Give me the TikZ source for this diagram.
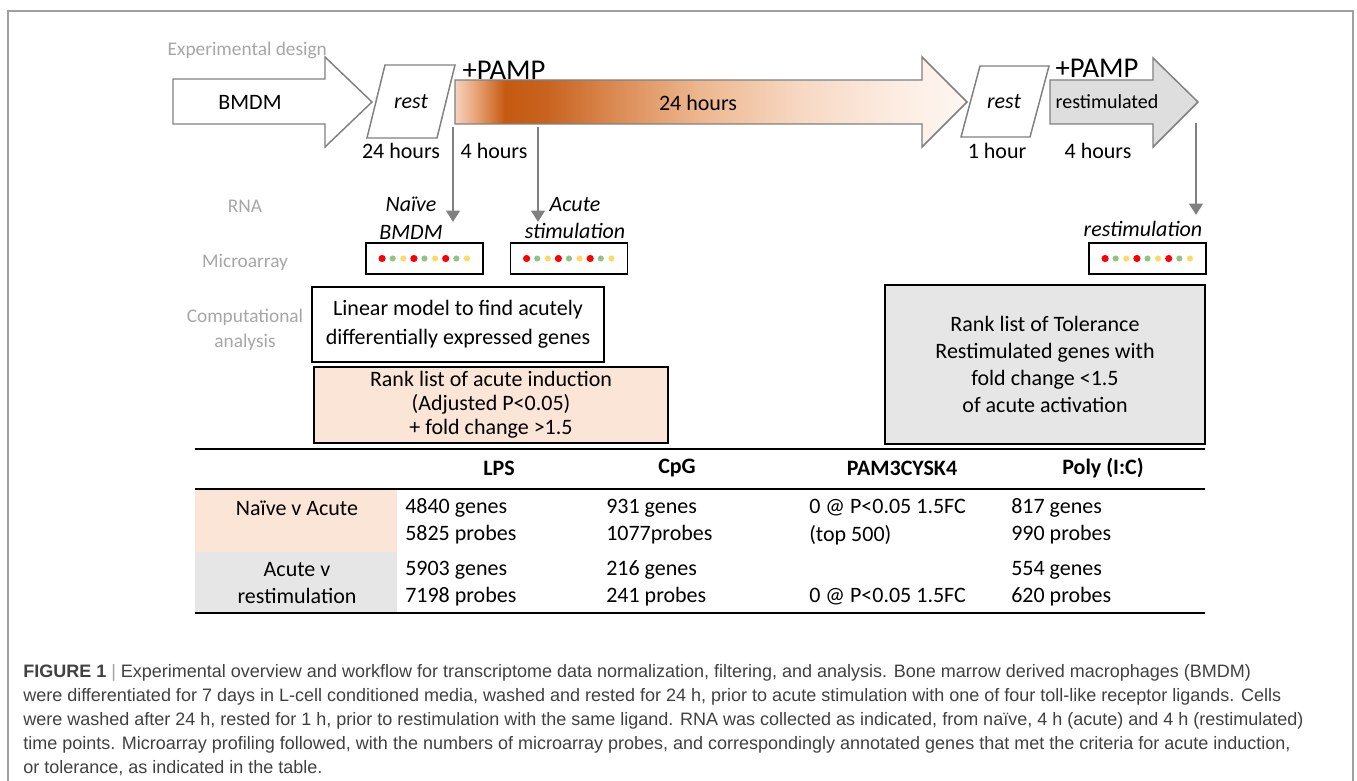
\documentclass[tikz,border=0pt]{standalone}
\usepackage{fontspec}
\setmainfont{Carlito}
\newfontfamily\capfont{Liberation Sans}
\usepackage{xcolor}
\usepackage{tikz}
\usetikzlibrary{arrows.meta}
\usetikzlibrary{calc}
\definecolor{framegray}{RGB}{160,160,160}
\definecolor{labelgray}{RGB}{166,166,166}
\definecolor{outline}{RGB}{128,128,128}
\definecolor{arrowline}{RGB}{128,128,128}
\definecolor{peach}{RGB}{251,229,214}
\definecolor{paleg}{RGB}{231,230,230}
\definecolor{restimfill}{RGB}{222,222,222}
\definecolor{dotred}{RGB}{255,0,0}
\definecolor{dotgreen}{RGB}{147,196,125}
\definecolor{dotyellow}{RGB}{255,217,102}
\definecolor{captext}{RGB}{64,64,64}
\definecolor{orA}{RGB}{245,211,189}
\definecolor{orB}{RGB}{232,166,122}
\definecolor{orC}{RGB}{197,90,17}
\definecolor{orCC}{RGB}{200,98,30}
\definecolor{orD}{RGB}{220,141,86}
\definecolor{orE}{RGB}{237,183,143}
\definecolor{orF}{RGB}{247,216,195}
\definecolor{orG}{RGB}{252,237,227}
\definecolor{orH}{RGB}{254,247,242}
\pgfdeclarehorizontalshading{pampfade}{100bp}{color(0bp)=(orA); color(25bp)=(orA); color(26.95bp)=(orB); color(29.9bp)=(orC); color(33.8bp)=(orCC); color(41.1bp)=(orD); color(48.9bp)=(orE); color(58.7bp)=(orF); color(68.5bp)=(orG); color(75bp)=(orH); color(100bp)=(orH)}

\begin{document}
\begin{tikzpicture}[x=0.75pt,y=-0.75pt,
	sidelabel/.style={text=labelgray,font=\fontsize{14.5}{18.75}\selectfont,align=center},
	stageline/.style={draw=outline,line width=1.1pt},
	stagetext/.style={font=\fontsize{16.5}{20}\selectfont},
	resttext/.style={font=\fontsize{16.5}{20}\selectfont\itshape},
	pamp/.style={font=\fontsize{21.5}{24}\selectfont},
	sample/.style={font=\fontsize{16.5}{20.6}\selectfont\itshape,align=center},
	chip/.style={draw,line width=1.1pt,minimum width=87.75pt,minimum height=23.25pt,inner sep=0pt},
	dropline/.style={draw=arrowline,line width=2.2pt,-{Triangle[width=10pt,length=8.5pt]}},
	textbox/.style={draw,line width=1.1pt,align=center,inner sep=0pt},
	colhead/.style={font=\fontsize{16.5}{20}\selectfont\bfseries},
	cell/.style={anchor=west,inner sep=0pt,font=\fontsize{16.5}{20}\selectfont},
	rowlabel/.style={font=\fontsize{16.5}{20.25}\selectfont,align=center}]
	\useasboundingbox (0,0) rectangle (1357,781);
	\draw[framegray,line width=1.5pt] (8,781) -- (8,11) -- (1353,11) -- (1353,781);
	
	% experimental design row
	\node[sidelabel,anchor=west] (design) at (163,50) {Experimental design};
	\draw[stageline,fill=white] (173,79) -- (325,79) -- (325,57) -- (372,102) -- (325,147) -- (325,124) -- (173,124) -- cycle;
	\node[stagetext] (bmdm) at (250,102) {BMDM};
	\draw[stageline,fill=white] (385,65) -- (455,65) -- (437,138) -- (367,138) -- cycle;
	\node[resttext] (restA) at (411,102) {rest};
	\path[stageline,shade,shading=pampfade] (455,80) -- (922,80) -- (922,57) -- (967,102) -- (922,147) -- (922,124) -- (455,124) -- cycle;
	\node[stagetext] (acute) at (698,103) {24 hours};
	\draw[stageline,fill=white] (980,66) -- (1049,66) -- (1030,137) -- (961,137) -- cycle;
	\node[resttext] (restB) at (1004,102) {rest};
	\draw[stageline,fill=restimfill] (1050,80) -- (1153,80) -- (1153,58) -- (1198,102) -- (1153,147) -- (1153,124) -- (1050,124) -- cycle;
	\node[stagetext,font=\fontsize{15}{18}\selectfont] (restim) at (1107,102) {restimulated};
	\node[pamp] (pampA) at (504,70) {+PAMP};
	\node[pamp] (pampB) at (1097,68) {+PAMP};
	
	\node[stagetext] (restAtime) at (401,151) {24 hours};
	\node[stagetext] (acutetime) at (494,151) {4 hours};
	\node[stagetext] (restBtime) at (997,151) {1 hour};
	\node[stagetext] (restimtime) at (1098,151) {4 hours};
	
	% sampling points
	\coordinate (cutA) at (453,127);
	\coordinate (tipA) at (453,222);
	\coordinate (cutB) at (538,127);
	\coordinate (tipB) at (538,222);
	\coordinate (cutC) at (1196,123);
	\coordinate (tipC) at (1196,215);
	\draw[dropline] (cutA) -- (tipA);
	\draw[dropline] (cutB) -- (tipB);
	\draw[dropline] (cutC) -- (tipC);
	
	\node[sidelabel] (rna) at (245,206) {RNA};
	\node[sidelabel] (array) at (245,262) {Microarray};
	\node[sidelabel] (comp) at (245,330) {Computational\\analysis};
	
	\node[sample] (naive) at (411,218) {Naïve\\BMDM};
	\node[sample] (acutesample) at (575,218) {Acute\\stimulation};
	\node[sample] (restimsample) at (1143,229) {restimulation};
	
	\node[chip] (chipnaive) at (424.5,258.5) {};
	\node[chip] (chipacute) at (569,258.5) {};
	\node[chip] (chiprestim) at (1147.5,258.5) {};
	\foreach \nm in {chipnaive,chipacute,chiprestim}
		\foreach \kk in {0,1,2}
			\foreach \dotc/\dotr [count=\jj from 0] in {dotred/2.7pt,dotgreen/2.3pt,dotyellow/2.3pt}
				\fill[\dotc] ($(\nm)+({(3*\kk+\jj-4)*10.6},0)$) circle[radius=\dotr];
	
	% analysis
	\node[textbox,font=\fontsize{16.5}{21.75}\selectfont,minimum width=219pt,minimum height=56.25pt] (linmodel) at (458,324.5) {Linear model to find acutely\\differentially expressed genes};
	\node[textbox,fill=peach,font=\fontsize{16.5}{18}\selectfont,minimum width=265.5pt,minimum height=57pt] (acutelist) at (491,405) {Rank list of acute induction\\(Adjusted P<0.05)\\+ fold change >1.5};
	\node[textbox,fill=paleg,font=\fontsize{16.5}{20.25}\selectfont,minimum width=240pt,minimum height=119.25pt] (tollist) at (1045,364.5) {Rank list of Tolerance\\Restimulated genes with\\fold change <1.5\\of acute activation};
	
	% table
	\fill[peach] (195,490) rectangle (397,552);
	\fill[paleg] (195,552) rectangle (397,612);
	\draw[line width=1.8pt] (195,449) -- (1205,449);
	\draw[line width=1.3pt] (195,489) -- (1205,489);
	\draw[line width=1.5pt] (195,613) -- (1205,613);
	\foreach \hx/\htxt [count=\n] in {499/LPS,677/CpG,902/PAM3CYSK4,1103/Poly (I:C)}
		\node[colhead] (head\n) at (\hx,468) {\htxt};
	\node[rowlabel] (naiveacute) at (297,508) {Naïve v Acute};
	\node[rowlabel] (acuterestim) at (297,583.5) {Acute v\\restimulation};
	\foreach \cx/\ga/\pa/\gb/\pb [count=\n] in {405/4840 genes/5825 probes/5903 genes/7198 probes,606/931 genes/1077probes/216 genes/241 probes,809/0 @ P<0.05 1.5FC/(top 500)//0 @ P<0.05 1.5FC,1011/817 genes/990 probes/554 genes/620 probes}
	{
		\node[cell] (geneA\n) at (\cx,508) {\ga};
		\node[cell] (probeA\n) at (\cx,535) {\pa};
		\node[cell] (geneB\n) at (\cx,570) {\gb};
		\node[cell] (probeB\n) at (\cx,597) {\pb};
	}
	
	\node[anchor=north west,align=left,inner sep=0pt,text=captext,font=\capfont\fontsize{13.5}{18}\selectfont] (caption) at (23,664) {\textbf{FIGURE 1} {\color{framegray}|} Experimental overview and workflow for transcriptome data normalization, filtering, and analysis. Bone marrow derived macrophages (BMDM)\\were differentiated for 7 days in L-cell conditioned media, washed and rested for 24 h, prior to acute stimulation with one of four toll-like receptor ligands. Cells\\were washed after 24 h, rested for 1 h, prior to restimulation with the same ligand. RNA was collected as indicated, from naïve, 4 h (acute) and 4 h (restimulated)\\time points. Microarray profiling followed, with the numbers of microarray probes, and correspondingly annotated genes that met the criteria for acute induction,\\or tolerance, as indicated in the table.};
\end{tikzpicture}
\end{document}
